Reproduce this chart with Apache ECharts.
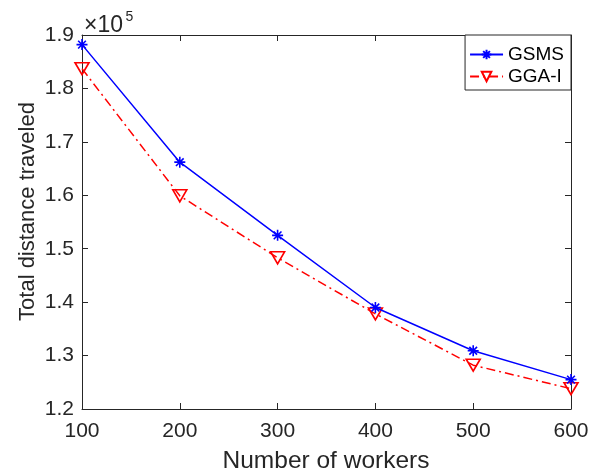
<!DOCTYPE html>
<html>
<head>
<meta charset="utf-8">
<script src="https://cdn.jsdelivr.net/npm/echarts@6/dist/echarts.min.js"></script>
<style>
html,body{margin:0;padding:0;background:#fff;}
#c{width:599px;height:472px;}
</style>
</head>
<body>
<div id="c"></div>
<script>
var workers = [100, 200, 300, 400, 500, 600];
var gsms = [188200, 166200, 152500, 139000, 130900, 125500];
var ggaI = [183700, 159900, 148300, 137800, 128200, 123800];
var xTicks = [100, 200, 300, 400, 500, 600];
var yTickLabels = ['1.2', '1.3', '1.4', '1.5', '1.6', '1.7', '1.8', '1.9'];
var xTitle = 'Number of workers';
var yTitle = 'Total distance traveled';
var seriesNames = ['GSMS', 'GGA-I'];

var FONT = '"Liberation Sans", Arial, Helvetica, sans-serif';
var TXT = '#262626';

function pairs(xs, ys) { return xs.map(function (x, i) { return [x, ys[i]]; }); }

var chart = echarts.init(document.getElementById('c'), null, {renderer: 'canvas'});

var asterisk = 'path://M0,-5 L0,5 M-5,0 L5,0 M-3.5,-3.5 L3.5,3.5 M-3.5,3.5 L3.5,-3.5';
var triDown = 'path://M0,0 L12,0 L6,10.4 Z';

var boxAxisCommon = {
  axisLine: {show: true, lineStyle: {color: TXT, width: 1}},
  axisTick: {show: true, inside: true, length: 6, lineStyle: {color: TXT, width: 1}},
  splitLine: {show: false}
};

chart.setOption({
  animation: false,
  backgroundColor: '#fff',
  textStyle: {fontFamily: FONT},
  grid: {left: 82, right: 28, top: 35, bottom: 63, containLabel: false, outerBoundsMode: 'none'},
  xAxis: [
    Object.assign({
      type: 'value', min: xTicks[0], max: xTicks[xTicks.length - 1], interval: 100,
      position: 'bottom',
      axisLabel: {color: TXT, fontSize: 21, fontFamily: FONT, margin: 12}
    }, boxAxisCommon),
    Object.assign({
      type: 'value', min: xTicks[0], max: xTicks[xTicks.length - 1], interval: 100,
      position: 'top', axisLabel: {show: false}
    }, boxAxisCommon)
  ],
  yAxis: [
    Object.assign({
      type: 'value', min: 120000, max: 190000, interval: 10000,
      position: 'left',
      axisLabel: {
        color: TXT, fontSize: 21, fontFamily: FONT, margin: 8,
        formatter: function (v) { return yTickLabels[Math.round((v - 120000) / 10000)]; }
      }
    }, boxAxisCommon),
    Object.assign({
      type: 'value', min: 120000, max: 190000, interval: 10000,
      position: 'right', axisLabel: {show: false}
    }, boxAxisCommon)
  ],
  legend: {
    orient: 'vertical', right: 28, top: 35,
    backgroundColor: '#fff', borderColor: TXT, borderWidth: 1, borderRadius: 0,
    padding: [10, 7, 4, 4], itemGap: 3, itemWidth: 33, itemHeight: 12,
    textStyle: {color: '#000', fontSize: 19, fontFamily: FONT},
    data: seriesNames
  },
  graphic: [
    {type: 'text', x: 84, y: 26, style: {text: '\u00d710', font: '23px ' + FONT, fill: TXT, verticalAlign: 'middle', align: 'left'}},
    {type: 'text', x: 125.5, y: 17, style: {text: '5', font: '14px ' + FONT, fill: TXT, verticalAlign: 'middle', align: 'left'}},
    {type: 'text', x: 326, y: 461.5, style: {text: xTitle, font: '24.5px ' + FONT, fill: TXT, verticalAlign: 'middle', align: 'center'}},
    {type: 'text', x: 27.5, y: 211.5, rotation: Math.PI / 2, style: {text: yTitle, font: '22px ' + FONT, fill: TXT, verticalAlign: 'middle', align: 'center'}}
  ],
  series: [
    {
      name: seriesNames[0], type: 'line', xAxisIndex: 0, yAxisIndex: 0,
      data: pairs(workers, gsms),
      symbol: asterisk, symbolSize: 11,
      lineStyle: {color: '#0000ff', width: 1.5, type: 'solid'},
      itemStyle: {color: '#0000ff', borderColor: '#0000ff', borderWidth: 1.6},
      z: 3
    },
    {
      name: seriesNames[1], type: 'line', xAxisIndex: 0, yAxisIndex: 0,
      data: pairs(workers, ggaI),
      symbol: triDown, symbolSize: [14, 12],
      lineStyle: {color: '#ff0000', width: 1.5, type: [9, 4, 2, 4]},
      itemStyle: {color: 'rgba(0,0,0,0)', borderColor: '#ff0000', borderWidth: 1.6},
      z: 2
    }
  ]
});
</script>
</body>
</html>
